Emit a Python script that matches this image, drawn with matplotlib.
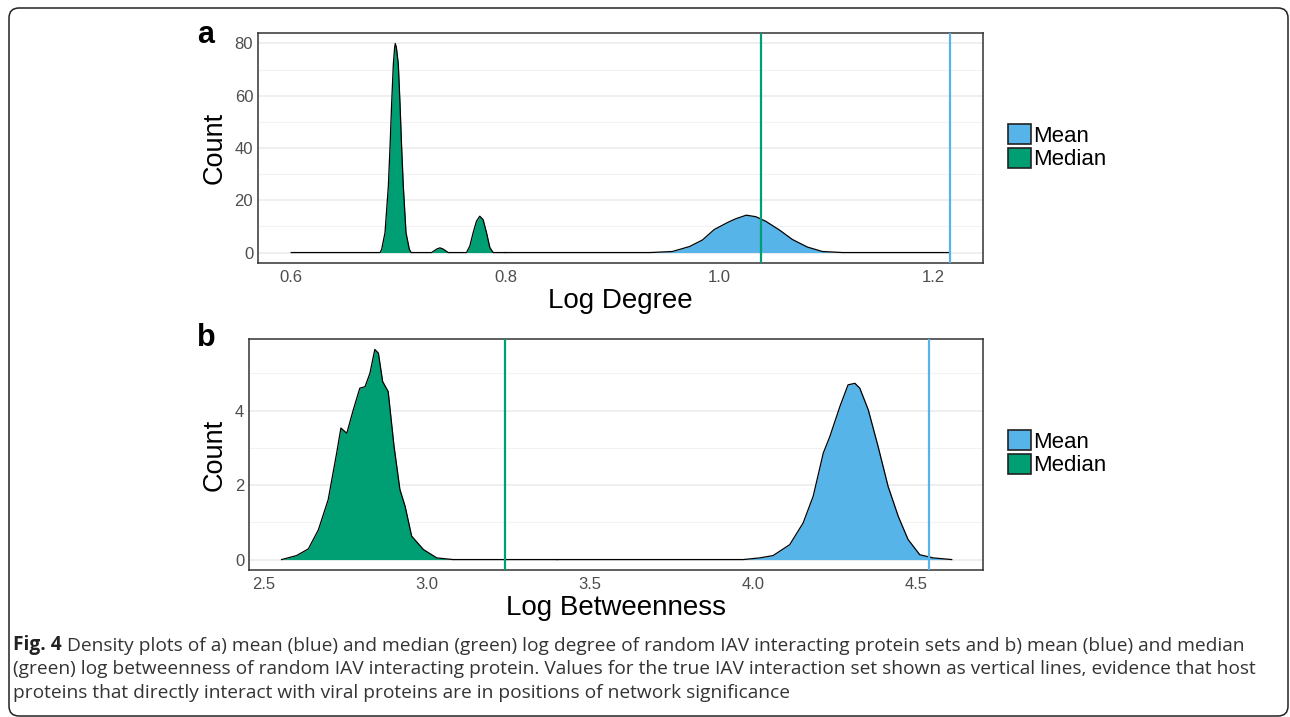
import matplotlib
matplotlib.use("Agg")
import matplotlib.pyplot as plt
from matplotlib.patches import Patch, FancyBboxPatch
from matplotlib.transforms import IdentityTransform

# colours
BLUE = '#56B4E9'
GREEN = '#009E73'

# panel a - log degree densities
deg_median_x = [0.600, 0.683, 0.6845, 0.6876, 0.6907, 0.6923, 0.6938, 0.6954, 0.6966, 0.6972, 0.6982, 0.7000, 0.7016,
                0.7031, 0.7047, 0.7072, 0.7103, 0.7120, 0.7311, 0.7358, 0.7389, 0.7420, 0.7466,
                0.7637, 0.7668, 0.7699, 0.7730, 0.7761, 0.7792, 0.7824, 0.7855, 0.7886, 0.800]
deg_median_y = [0, 0, 1.25, 7.6, 25.3, 40.5, 57, 72.2, 78.5, 80, 78.5, 72.2, 57,
                40.5, 25.3, 7.6, 1.25, 0, 0, 1.3, 1.8, 1.3, 0,
                0, 2.5, 7.6, 12.0, 13.9, 12.6, 7.6, 1.9, 0, 0]
deg_mean_x = [0.800, 0.935, 0.956, 0.972, 0.984, 0.995, 1.008, 1.015, 1.025, 1.034,
              1.043, 1.056, 1.068, 1.082, 1.096, 1.115, 1.215]
deg_mean_y = [0, 0, 0.4, 2.3, 4.8, 8.8, 11.6, 12.9, 14.3, 13.7,
              12.0, 8.6, 5.0, 2.1, 0.4, 0, 0]
deg_true_mean = 1.215
deg_true_median = 1.039

# panel b - log betweenness densities
btw_median_x = [2.554, 2.600, 2.636, 2.667, 2.697, 2.723, 2.736, 2.754, 2.774, 2.794,
                2.810, 2.825, 2.840, 2.851, 2.864, 2.881, 2.899, 2.917, 2.933, 2.953,
                2.989, 3.030, 3.080, 3.400]
btw_median_y = [0, 0.107, 0.286, 0.80, 1.61, 2.86, 3.53, 3.39, 4.02, 4.60,
                4.64, 5.0, 5.64, 5.54, 4.78, 4.51, 3.04, 1.88, 1.43, 0.63,
                0.27, 0.045, 0, 0]
btw_mean_x = [3.400, 3.970, 4.021, 4.062, 4.113, 4.154, 4.185, 4.216, 4.236, 4.267,
              4.292, 4.313, 4.328, 4.354, 4.384, 4.415, 4.446, 4.476, 4.512, 4.553, 4.610]
btw_mean_y = [0, 0, 0.045, 0.107, 0.40, 0.98, 1.70, 2.86, 3.30, 4.11,
              4.69, 4.73, 4.60, 4.02, 3.04, 1.96, 1.16, 0.54, 0.13, 0.045, 0]
btw_true_mean = 4.54
btw_true_median = 3.239

deg_ticks = [0.6, 0.8, 1.0, 1.2]
btw_ticks = [2.5, 3.0, 3.5, 4.0, 4.5]

caption = ['Density plots of a) mean (blue) and median (green) log degree of random IAV interacting protein sets and b) mean (blue) and median',
           '(green) log betweenness of random IAV interacting protein. Values for the true IAV interaction set shown as vertical lines, evidence that host',
           'proteins that directly interact with viral proteins are in positions of network significance']

plt.rcParams['font.family'] = ['Liberation Sans', 'DejaVu Sans']

W, H = 1290, 717
fig = plt.figure(figsize=(W / 100, H / 100), dpi=100)


def px_axes(l, t, r, b):
    return fig.add_axes([l / W, 1 - b / H, (r - l) / W, (b - t) / H])


def style(ax, ylim, yticks, yminor, xticks, xlim):
    ax.set_xlim(*xlim)
    ax.set_ylim(*ylim)
    ax.set_xticks(xticks)
    ax.set_xticklabels(['%.1f' % v for v in xticks])
    ax.set_yticks(yticks)
    ax.set_yticks(yminor, minor=True)
    ax.grid(axis='y', which='major', color='#EBEBEB', lw=1.1, zorder=0)
    ax.grid(axis='y', which='minor', color='#F2F2F2', lw=0.8, zorder=0)
    ax.grid(axis='x', visible=False)
    ax.tick_params(axis='both', which='both', length=0, labelsize=12, labelcolor='#4D4D4D')
    ax.tick_params(axis='x', pad=5)
    ax.tick_params(axis='y', pad=3.5)
    for s in ax.spines.values():
        s.set_color('#333333')
        s.set_linewidth(1.1)
    ax.set_axisbelow(True)


def density(ax, x, y, col):
    ax.fill_between(x, 0, y, color=col, lw=0, zorder=2)
    ax.plot(x, y, color='black', lw=0.9, zorder=3)


# ---- panel a
ax1 = px_axes(258, 33, 983, 263)
density(ax1, deg_median_x, deg_median_y, GREEN)
density(ax1, deg_mean_x, deg_mean_y, BLUE)
ax1.axvline(deg_true_median, color=GREEN, lw=1.6, zorder=4)
ax1.axvline(deg_true_mean, color=BLUE, lw=1.6, zorder=4)
style(ax1, (-4, 84), [0, 20, 40, 60, 80], [10, 30, 50, 70], deg_ticks, (0.569, 1.246))
ax1.set_xlabel('Log Degree', fontsize=20, labelpad=2)
ax1.set_ylabel('Count', fontsize=19.5)
ax1.yaxis.set_label_coords((228 - 258) / 725, 0.5)

# ---- panel b
ax2 = px_axes(249, 339, 983, 570)
density(ax2, btw_median_x, btw_median_y, GREEN)
density(ax2, btw_mean_x, btw_mean_y, BLUE)
ax2.axvline(btw_true_median, color=GREEN, lw=1.6, zorder=4)
ax2.axvline(btw_true_mean, color=BLUE, lw=1.6, zorder=4)
style(ax2, (-0.28, 5.92), [0, 2, 4], [1, 3, 5], btw_ticks, (2.454, 4.706))
ax2.set_xlabel('Log Betweenness', fontsize=20, labelpad=2)
ax2.set_ylabel('Count', fontsize=19.5)
ax2.yaxis.set_label_coords((228 - 249) / 734, 0.5)

# legends
handles = [Patch(facecolor=BLUE, edgecolor='#222222', lw=1.2, label='Mean'),
           Patch(facecolor=GREEN, edgecolor='#222222', lw=1.2, label='Median')]
for top in (124, 430):
    fig.legend(handles=handles, loc='upper left', bbox_to_anchor=(1008 / W, 1 - top / H),
               bbox_transform=fig.transFigure, frameon=False, fontsize=16,
               handlelength=1.05, handleheight=1.0, handletextpad=0.08,
               labelspacing=0.05, borderpad=0, borderaxespad=0)

# panel letters
fig.text(197 / W, 1 - 43 / H, 'a', fontsize=22, fontweight='bold', va='baseline')
fig.text(197 / W, 1 - 346 / H, 'b', fontsize=22, fontweight='bold', va='baseline')

# caption
cap_font = ['Open Sans', 'DejaVu Sans']
cap_size = 13.8
t0 = fig.text(13 / W, 1 - 650 / H, 'Fig. 4', fontsize=cap_size, fontweight='bold',
              family=cap_font, color='#222222', va='baseline')
fig.add_artist(matplotlib.text.Annotation(' ' + caption[0], xy=(1, 0), xycoords=t0, va='bottom',
                                          fontsize=cap_size, family=cap_font, color='#333333'))
fig.text(13 / W, 1 - 674 / H, caption[1], fontsize=cap_size, family=cap_font, color='#333333', va='baseline')
fig.text(13 / W, 1 - 698 / H, caption[2], fontsize=cap_size, family=cap_font, color='#333333', va='baseline')

# outer rounded frame
frame = FancyBboxPatch((9, 1), 1279, 708, boxstyle='round,pad=0,rounding_size=10',
                       transform=IdentityTransform(), facecolor='none', edgecolor='#222222', lw=1.1)
fig.add_artist(frame)

fig.savefig('out.png', dpi=100)
